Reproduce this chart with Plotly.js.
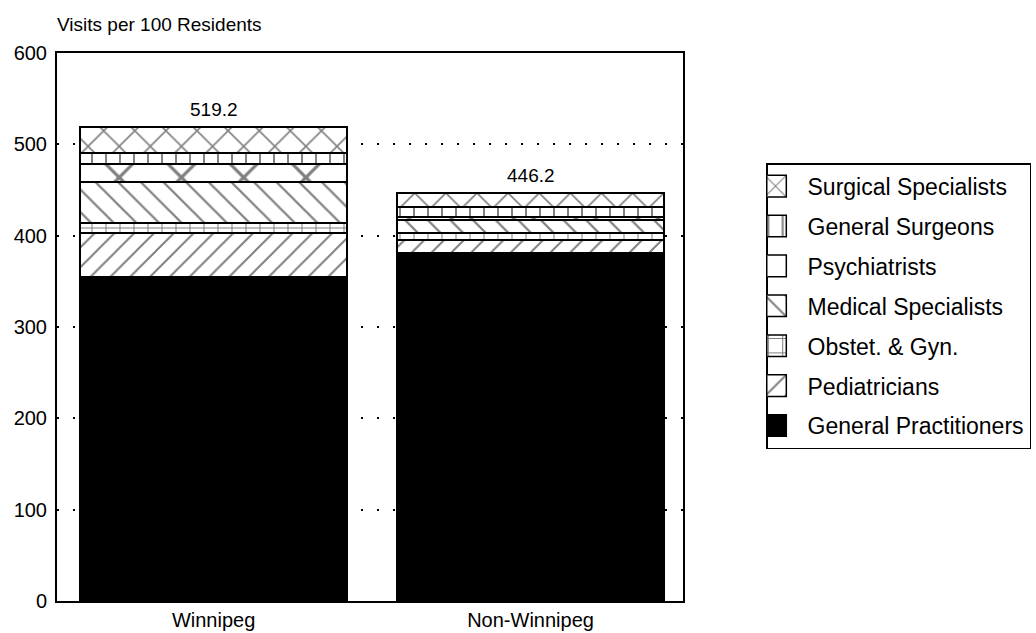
<!DOCTYPE html>
<html>
<head>
<meta charset="utf-8">
<script src="https://cdn.plot.ly/plotly-3.0.1.min.js"></script>
<style>
html,body{margin:0;padding:0;background:#fff}
#chart{width:1036px;height:633px}
#chart .legendpoints path{transform:translate(8px,0) scale(1.8);vector-effect:non-scaling-stroke;stroke-width:1.5px !important}
</style>
</head>
<body>
<div id="chart"></div>
<script>
const regions = ["Winnipeg", "Non-Winnipeg"];
const generalPractitioners = [355.1, 380.7];
const pediatricians = [48.2, 14.6];
const obstetGyn = [10.9, 7.3];
const medicalSpecialists = [44.2, 14.9];
const psychiatrists = [20.1, 2.6];
const generalSurgeons = [11.7, 11.0];
const surgicalSpecialists = [29.0, 15.1];
const totalLabels = ["519.2", "446.2"];
const totals = [519.2, 446.2];
const yTicks = [0, 100, 200, 300, 400, 500, 600];

const FONT = "Liberation Sans, Arial, Helvetica, sans-serif";

const series = [
  {name: "General Practitioners", y: generalPractitioners, shape: "", solid: true},
  {name: "Pediatricians", y: pediatricians, shape: "/", size: 14},
  {name: "Obstet. & Gyn.", y: obstetGyn, shape: "+", size: 14},
  {name: "Medical Specialists", y: medicalSpecialists, shape: "\\", size: 16},
  {name: "Psychiatrists", y: psychiatrists, shape: "x", size: 44, blankKey: true},
  {name: "General Surgeons", y: generalSurgeons, shape: "|", size: 14},
  {name: "Surgical Specialists", y: surgicalSpecialists, shape: "x", size: 22}
];

const traces = [];
series.forEach((s, i) => {
  traces.push({
    type: "bar",
    name: s.name,
    x: regions,
    y: s.y,
    width: 0.842,
    legendgroup: "g" + i,
    legendrank: 100 - i,
    showlegend: !s.blankKey,
    hoverinfo: "skip",
    marker: {
      color: s.solid ? "#000" : "#fff",
      line: {color: "#000", width: 2},
      pattern: s.solid ? {shape: ""} : {shape: s.shape, fgcolor: "#000", bgcolor: "#fff", size: s.size, solidity: 0.14, fillmode: "overlay"}
    }
  });
  if (s.blankKey) {
    // legend key only (plain white box, as in the original key)
    traces.push({
      type: "bar",
      name: s.name,
      x: regions,
      y: [null, null],
      width: 0.842,
      legendgroup: "g" + i,
      legendrank: 100 - i,
      hoverinfo: "skip",
      marker: {color: "#fff", line: {color: "#000", width: 2}}
    });
  }
});

const annotations = regions.map((r, i) => ({
  x: r, y: totals[i], xref: "x", yref: "y",
  text: totalLabels[i], showarrow: false,
  yanchor: "bottom", yshift: 5,
  font: {family: FONT, size: 19, color: "#000"}
}));

const layout = {
  width: 1036, height: 633,
  margin: {l: 57, r: 353, t: 53, b: 32, autoexpand: false},
  paper_bgcolor: "#fff", plot_bgcolor: "#fff",
  barmode: "stack",
  showlegend: true,
  font: {family: FONT, color: "#000"},
  title: {
    text: "Visits per 100 Residents",
    x: 57 / 1036, xanchor: "left", xref: "container",
    y: 1 - 24 / 633, yanchor: "middle", yref: "container",
    font: {family: FONT, size: 19, color: "#000"}
  },
  xaxis: {
    type: "category",
    range: [-0.494, 1.481],
    showline: true, mirror: true, linecolor: "#000", linewidth: 2,
    showgrid: false, ticks: "",
    tickfont: {family: FONT, size: 20, color: "#000"},
    fixedrange: true
  },
  yaxis: {
    range: [0, 600],
    tickvals: yTicks,
    ticktext: yTicks.map(String),
    showline: true, mirror: true, linecolor: "#000", linewidth: 2,
    showgrid: true, gridcolor: "#000", gridwidth: 2, griddash: "2px,14px",
    zeroline: false, ticks: "",
    ticklabelstandoff: 4,
    tickfont: {family: FONT, size: 20, color: "#000"},
    fixedrange: true
  },
  legend: {
    x: 1.1326, xanchor: "left", xref: "paper",
    y: 0.799, yanchor: "top", yref: "paper",
    traceorder: "grouped",
    tracegroupgap: 7,
    bordercolor: "#000", borderwidth: 1.5, bgcolor: "#fff",
    font: {family: FONT, size: 23, color: "#000"},
    itemwidth: 30
  },
  annotations: annotations
};

Plotly.newPlot("chart", traces, layout, {displayModeBar: false, staticPlot: true});
</script>
</body>
</html>
